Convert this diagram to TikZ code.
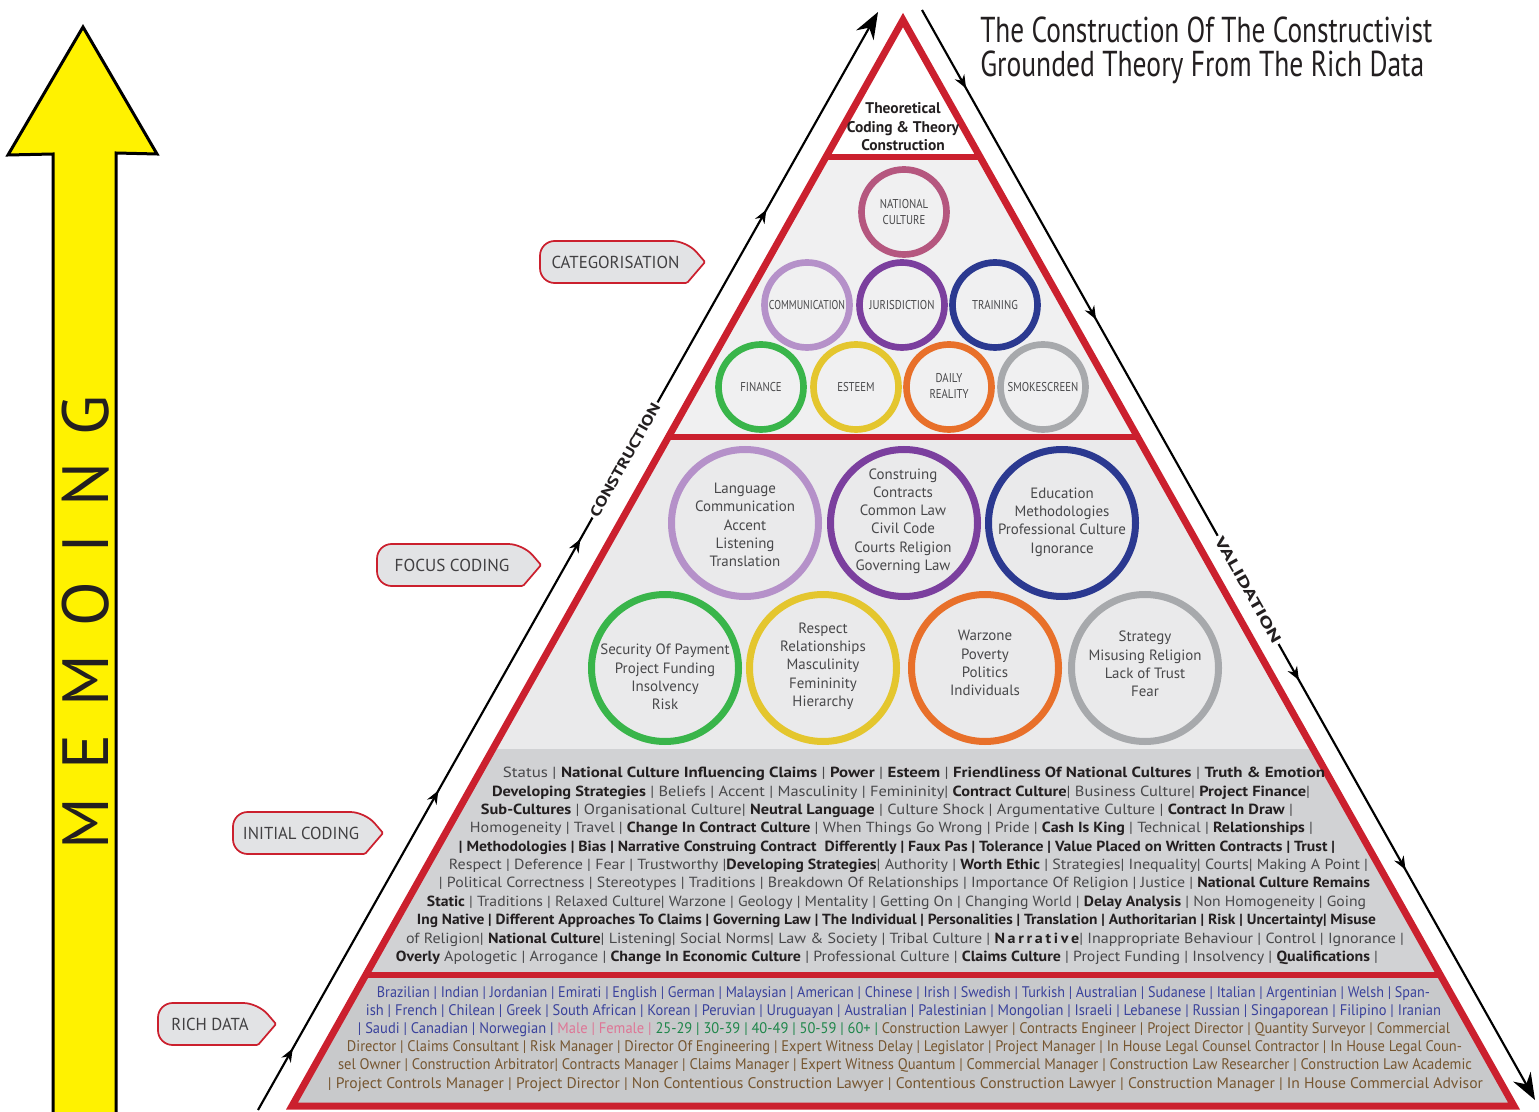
\documentclass[tikz,border=0pt]{standalone}
\usepackage{fontspec}
\usepackage{graphicx}
\setmainfont{PT Sans}
\usetikzlibrary{arrows.meta,decorations.markings}

\definecolor{tri}{RGB}{203,32,46}
\definecolor{bandA}{RGB}{240,240,241}
\definecolor{bandB}{RGB}{234,234,235}
\definecolor{bandC}{RGB}{209,210,212}
\definecolor{bandD}{RGB}{200,201,203}
\definecolor{txreg}{RGB}{72,72,74}
\definecolor{txbold}{RGB}{35,31,32}
\definecolor{cNat}{RGB}{181,87,127}
\definecolor{cLav}{RGB}{181,145,201}
\definecolor{cPur}{RGB}{123,63,158}
\definecolor{cBlu}{RGB}{43,57,144}
\definecolor{cGrn}{RGB}{57,181,74}
\definecolor{cYel}{RGB}{228,198,46}
\definecolor{cOra}{RGB}{232,112,42}
\definecolor{cGry}{RGB}{167,169,172}
\definecolor{rdblue}{RGB}{58,66,156}
\definecolor{rdpink}{RGB}{222,118,150}
\definecolor{rdgreen}{RGB}{30,134,74}
\definecolor{rdbrown}{RGB}{118,86,48}
\definecolor{memoyellow}{RGB}{255,242,0}
\definecolor{tagfill}{RGB}{226,227,229}
\definecolor{tagtx}{RGB}{65,64,66}

% horizontal fit of a line of text to a given width
\newcommand\fitw[2]{\resizebox{#1}{\height}{#2}}
\newcommand\ictb[1]{{\bfseries\color{txbold}#1}}

\tikzset{
  midtip/.tip={Stealth[length=10pt,width=8pt]},
  endtip/.tip={Stealth[length=20pt,width=15pt]},
  flowline/.style={line width=1.6pt, draw=black},
  bandline/.style={draw=tri, line width=4.5pt},
  focuscirc/.style={circle, draw, line width=5.25pt, minimum size=110.25pt, inner sep=0pt},
  catcirc/.style={circle, draw, line width=5pt, minimum size=63.75pt, inner sep=0pt},
  focustext/.style={align=center, text=txreg, font=\fontsize{11.2}{13.7}\selectfont, inner sep=0pt},
  cattext/.style={align=center, text=txreg, font=\fontsize{9.6}{12}\selectfont, xscale=0.84, inner sep=0pt},
  lineText/.style={inner sep=0pt, text height=7.8pt, text depth=2.4pt, text=txreg, font=\fontsize{11}{12}\selectfont},
  richText/.style={lineText, font=\fontsize{11.5}{12}\selectfont},
  tagshape/.style={draw=tri, line width=1.3pt, fill=tagfill},
  tagtext/.style={text=tagtx, font=\fontsize{13}{14}\selectfont, inner sep=0pt},
  sidelabel/.style={fill=white, inner sep=1.5pt, font=\bfseries\fontsize{11}{12}\selectfont, text=txbold},
}

% one line of justified text
\newcommand\textline[5]{\node[lineText] (#1) at (#2,#3) {\fitw{#4pt}{#5}};}
\newcommand\richline[5]{\node[richText] (#1) at (#2,#3) {\fitw{#4pt}{#5}};}
% a pointed label tag
\newcommand\drawtag[6]{%
  \draw[tagshape, rounded corners=1pt] (#3-18,#4-21) -- (#3,#4) -- (#3-18,#4+21)
     [rounded corners=11pt] -- (#2,#4+21) -- (#2,#4-21) -- cycle;
  \node[tagtext] (#1) at ({(#2+#3)/2-7},#4) {\fitw{#5pt}{#6}};}

\begin{document}
\begin{tikzpicture}[x=0.75pt,y=-0.75pt]
\useasboundingbox (0,0) rectangle (1539,1112);

% pyramid corners
\coordinate (apex) at (903,20);
\coordinate (bl) at (292,1106);
\coordinate (br) at (1514,1106);

% coloured bands of the pyramid
\begin{scope}
  \clip (apex) -- (bl) -- (br) -- cycle;
  \fill[white] (0,0) rectangle (1539,157);
  \fill[bandA] (0,157) rectangle (1539,437);
  \fill[bandB] (0,437) rectangle (1539,749);
  \fill[bandC] (0,749) rectangle (1539,975);
  \fill[bandD] (0,975) rectangle (1539,1112);
  \draw[bandline] (0,157) -- (1539,157);
  \draw[bandline] (0,437) -- (1539,437);
  \draw[bandline] (0,975) -- (1539,975);
\end{scope}
\draw[tri, line width=5.25pt, line join=miter] (apex) -- (bl) -- (br) -- cycle;

% top level
\node[align=center, font=\bfseries\fontsize{11.6}{13.9}\selectfont, text=txbold, inner sep=0pt]
  (theory) at (903,127) {Theoretical\\Coding \& Theory\\Construction};

% categories
\node[catcirc, draw=cNat] (cNational) at (904,212) {};
\node[catcirc, draw=cLav] (cComm) at (807,305) {};
\node[catcirc, draw=cPur] (cJuris) at (902,305) {};
\node[catcirc, draw=cBlu] (cTrain) at (995,305) {};
\node[catcirc, draw=cGrn] (cFin) at (761,387) {};
\node[catcirc, draw=cYel] (cEst) at (856,387) {};
\node[catcirc, draw=cOra] (cDaily) at (949,387) {};
\node[catcirc, draw=cGry] (cSmoke) at (1043,387) {};
\node[cattext] (tNational) at (904,212) {NATIONAL\\CULTURE};
\node[cattext, xscale=0.92] (tComm) at (807,305) {COMMUNICATION};
\node[cattext] (tJuris) at (902,305) {JURISDICTION};
\node[cattext] (tTrain) at (995,305) {TRAINING};
\node[cattext] (tFin) at (761,387) {FINANCE};
\node[cattext] (tEst) at (856,387) {ESTEEM};
\node[cattext] (tDaily) at (949,386) {DAILY\\REALITY};
\node[cattext] (tSmoke) at (1043,387) {SMOKESCREEN};

% focus codes
\node[focuscirc, draw=cLav] (fLang) at (745,523) {};
\node[focuscirc, draw=cPur] (fContr) at (904,523) {};
\node[focuscirc, draw=cBlu] (fEdu) at (1062,523) {};
\node[focuscirc, draw=cGrn] (fSec) at (665,668) {};
\node[focuscirc, draw=cYel] (fResp) at (823,668) {};
\node[focuscirc, draw=cOra] (fWar) at (985,668) {};
\node[focuscirc, draw=cGry] (fStrat) at (1145,668) {};
\node[focustext] (tLang) at (745,525) {Language\\Communication\\Accent\\Listening\\Translation};
\node[focustext] (tContr) at (903,521) {Construing\\Contracts\\Common Law\\Civil Code\\Courts Religion\\Governing Law};
\node[focustext] (tEdu) at (1062,522) {Education\\Methodologies\\Professional Culture\\Ignorance};
\node[focustext] (tSec) at (665,677) {Security Of Payment\\Project Funding\\Insolvency\\Risk};
\node[focustext] (tResp) at (823,666) {Respect\\Relationships\\Masculinity\\Femininity\\Hierarchy};
\node[focustext] (tWar) at (985,663) {Warzone\\Poverty\\Politics\\Individuals};
\node[focustext] (tStrat) at (1145,664) {Strategy\\Misusing Religion\\Lack of Trust\\Fear};

% initial coding
\textline{ic1}{914}{774}{616.5}{Status | \ictb{National Culture Influencing Claims} | \ictb{Power} | \ictb{Esteem} | \ictb{Friendliness Of National Cultures} | \ictb{Truth \& Emotion}}
\textline{ic2}{901}{793}{613.5}{\ictb{Developing Strategies} | Beliefs | Accent | Masculinity | Femininity| \ictb{Contract Culture}| Business Culture| \ictb{Project Finance}|}
\textline{ic3}{887}{811}{609}{\ictb{Sub-Cultures} | Organisational Culture| \ictb{Neutral Language} | Culture Shock | Argumentative Culture | \ictb{Contract In Draw} |}
\textline{ic4}{891.5}{829}{632.25}{Homogeneity | Travel | \ictb{Change In Contract Culture} | When Things Go Wrong | Pride | \ictb{Cash Is King} | Technical | \ictb{Relationships} |}
\textline{ic5}{897}{848}{657}{\ictb{| Methodologies | Bias | Narrative Construing Contract\ \ Differently | Faux Pas | Tolerance | Value Placed on Written Contracts | Trust |}}
\textline{ic6}{908.5}{866}{689.25}{Respect | Deference | Fear | Trustworthy |\ictb{Developing Strategies}| Authority | \ictb{Worth Ethic} | Strategies| Inequality| Courts| Making A Point |}
\textline{ic7}{904.5}{884}{698.25}{| Political Correctness | Stereotypes | Traditions | Breakdown Of Relationships | Importance Of Religion | Justice | \ictb{National Culture Remains}}
\textline{ic8}{896.5}{903}{704.25}{\ictb{Static} | Traditions | Relaxed Culture| Warzone | Geology | Mentality | Getting On | Changing World | \ictb{Delay Analysis} | Non Homogeneity | Going}
\textline{ic9}{896.5}{921}{719.25}{\ictb{Ing Native | Different Approaches To Claims | Governing Law | The Individual | Personalities | Translation | Authoritarian | Risk | Uncertainty| Misuse}}
\textline{ic10}{905}{940}{748.5}{of Religion| \ictb{National Culture}| Listening| Social Norms| Law \& Society | Tribal Culture | \ictb{N\,a\,r\,r\,a\,t\,i\,v\,e}| Inappropriate Behaviour | Control | Ignorance |}
\textline{ic11}{887}{958}{736.5}{\ictb{Overly} Apologetic | Arrogance | \ictb{Change In Economic Culture} | Professional Culture | \ictb{Claims Culture} | Project Funding | Insolvency | \ictb{Qualifications} |}

% rich data
\richline{rd1}{903.5}{994}{789.75}{\color{rdblue}Brazilian | Indian | Jordanian | Emirati | English | German | Malaysian | American | Chinese | Irish | Swedish | Turkish | Australian | Sudanese | Italian | Argentinian | Welsh | Span-}
\richline{rd2}{903.5}{1012}{806.25}{\color{rdblue}ish | French | Chilean | Greek | South African | Korean | Peruvian | Uruguayan | Australian | Palestinian | Mongolian | Israeli | Lebanese | Russian | Singaporean | Filipino | Iranian}
\richline{rd3}{904}{1030}{819}{{\color{rdblue}| Saudi | Canadian | Norwegian |} {\color{rdpink}Male | Female |} {\color{rdgreen}25-29 | 30-39 | 40-49 | 50-59 | 60+ |} {\color{rdbrown}Construction Lawyer | Contracts Engineer | Project Director | Quantity Surveyor | Commercial}}
\richline{rd4}{904.5}{1048}{836.25}{\color{rdbrown}Director | Claims Consultant | Risk Manager | Director Of Engineering | Expert Witness Delay | Legislator | Project Manager | In House Legal Counsel Contractor | In House Legal Coun-}
\richline{rd5}{905}{1066}{850.5}{\color{rdbrown}sel Owner | Construction Arbitrator| Contracts Manager | Claims Manager | Expert Witness Quantum | Commercial Manager | Construction Law Researcher | Construction Law Academic}
\richline{rd6}{905.5}{1085}{866.25}{\color{rdbrown}| Project Controls Manager | Project Director | Non Contentious Construction Lawyer | Contentious Construction Lawyer | Construction Manager | In House Commercial Advisor}

% construction and validation flows
\coordinate (lstart) at (258,1110);
\coordinate (lend) at (878,12);
\coordinate (rstart) at (922,10);
\coordinate (rend) at (1535,1100);
\draw[flowline, -endtip, postaction={decorate}, decoration={markings,
    mark=at position 0.056 with {\arrow{midtip}},
    mark=at position 0.291 with {\arrow{midtip}},
    mark=at position 0.52 with {\arrow{midtip}},
    mark=at position 0.82 with {\arrow{midtip}}}] (lstart) -- (lend);
\draw[flowline, -endtip, postaction={decorate}, decoration={markings,
    mark=at position 0.072 with {\arrow{midtip}},
    mark=at position 0.284 with {\arrow{midtip}},
    mark=at position 0.615 with {\arrow{midtip}},
    mark=at position 0.789 with {\arrow{midtip}}}] (rstart) -- (rend);
\path (lstart) -- (lend) node[sidelabel, pos=0.592, sloped] (lblConstr) {\fitw{96pt}{CONSTRUCTION}};
\path (rstart) -- (rend) node[sidelabel, pos=0.532, sloped] (lblValid) {\fitw{90pt}{VALIDATION}};

% stage tags
\drawtag{tagCat}{540}{705}{262}{96}{CATEGORISATION}
\drawtag{tagFocus}{377}{541}{565}{86}{FOCUS CODING}
\drawtag{tagInit}{233}{383}{833}{87}{INITIAL CODING}
\drawtag{tagRich}{158}{276}{1024}{58}{RICH DATA}

% memoing arrow
\filldraw[fill=memoyellow, draw=black, line width=2.25pt, line join=miter]
  (53,1112) -- (53,154) -- (8,155) -- (83,27) -- (157,154) -- (116,153) -- (116,1112);
\node[rotate=90, font=\fontsize{49}{49}\selectfont, text=txbold, inner sep=0pt] (memo) at (86,622)
  {M\kern21pt E\kern21pt M\kern21pt O\kern21pt I\kern21pt N\kern21pt G};

% title
\node[anchor=base west, inner sep=0pt, text=txbold, font=\fontsize{27}{30}\selectfont] (title1) at (980,43)
  {\fitw{339pt}{The Construction Of The Constructivist}};
\node[anchor=base west, inner sep=0pt, text=txbold, font=\fontsize{27}{30}\selectfont] (title2) at (980,77)
  {\fitw{333pt}{Grounded Theory From The Rich Data}};
\end{tikzpicture}
\end{document}
